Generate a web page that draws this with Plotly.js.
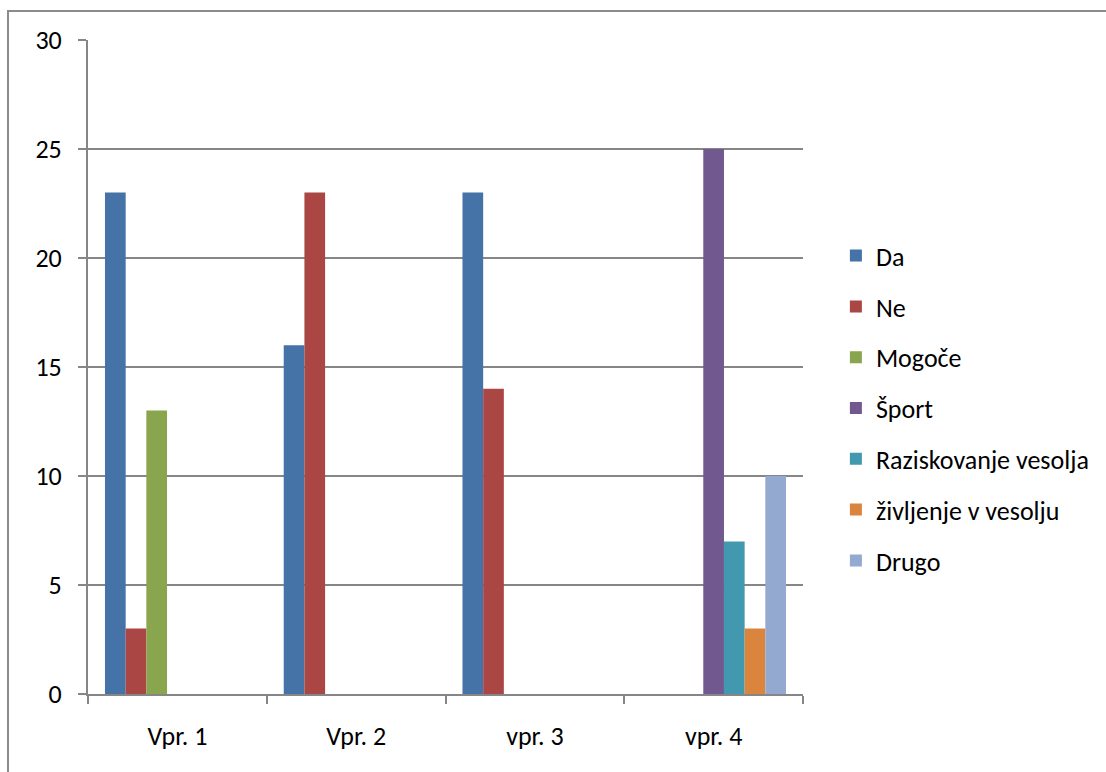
<!DOCTYPE html>
<html>
<head>
<meta charset="utf-8">
<script src="https://cdn.plot.ly/plotly-3.0.1.min.js"></script>
<style>
  html, body { margin: 0; padding: 0; overflow: hidden; background: #fff; }
  #chart { position: absolute; left: 0; top: 0; width: 1106px; height: 772px; }
  #frame { position: absolute; left: 7px; top: 10px; width: 1200px; height: 900px;
           border: 2px solid #8c8c8c; pointer-events: none; }
</style>
</head>
<body>
<div id="chart"></div>
<div id="frame"></div>
<script>
const categories = ["Vpr. 1", "Vpr. 2", "vpr. 3", "vpr. 4"];
const seriesNames = ["Da", "Ne", "Mogoče", "Šport", "Raziskovanje vesolja", "življenje v vesolju", "Drugo"];
const da = [23, 16, 23, null];
const ne = [3, 23, 14, null];
const mogoce = [13, null, null, null];
const sport = [null, null, null, 25];
const raziskovanje = [null, null, null, 7];
const zivljenje = [null, null, null, 3];
const drugo = [null, null, null, 10];
const seriesValues = [da, ne, mogoce, sport, raziskovanje, zivljenje, drugo];
const colors = ["#4572A7", "#AA4643", "#89A54E", "#71588F", "#4198AF", "#DB843D", "#93A9CF"];
const yTicks = [0, 5, 10, 15, 20, 25, 30];

const font = "Carlito, Calibri, 'Open Sans', 'Liberation Sans', sans-serif";

const traces = seriesNames.map((name, i) => ({
  type: "bar",
  name: name,
  x: categories,
  y: seriesValues[i],
  marker: { color: colors[i], line: { width: 0 } },
  legendgroup: "g" + i,
  hoverinfo: "x+y+name"
}));

const layout = {
  width: 1106,
  height: 772,
  margin: { l: 88, r: 301, t: 40, b: 78, pad: 0 },
  paper_bgcolor: "#ffffff",
  plot_bgcolor: "#ffffff",
  font: { family: font, size: 26, color: "#000000" },
  barmode: "group",
  bargap: 0.19,
  bargroupgap: 0,
  showlegend: true,
  legend: {
    x: 1.046, xanchor: "left",
    y: 0.437, yanchor: "middle",
    traceorder: "grouped",
    tracegroupgap: 14,
    font: { family: font, size: 26, color: "#000000" },
    itemwidth: 30
  },
  xaxis: {
    type: "category",
    showline: true,
    linecolor: "#868686",
    linewidth: 2,
    ticks: "outside",
    tickson: "boundaries",
    ticklen: 8,
    tickwidth: 2,
    tickcolor: "#868686",
    showgrid: false,
    zeroline: false,
    tickfont: { family: font, size: 26, color: "#000000" },
    ticklabelstandoff: 18
  },
  yaxis: {
    range: [0, 30],
    tickvals: yTicks,
    ticktext: yTicks.map(String),
    showline: true,
    linecolor: "#868686",
    linewidth: 2,
    ticks: "outside",
    ticklen: 8,
    tickwidth: 2,
    tickcolor: "#868686",
    showgrid: true,
    gridcolor: "#868686",
    gridwidth: 1.5,
    zeroline: false,
    tickfont: { family: font, size: 26, color: "#000000" },
    ticklabelstandoff: 11
  }
};

Plotly.newPlot("chart", traces, layout, { displayModeBar: false, staticPlot: true });
</script>
</body>
</html>
